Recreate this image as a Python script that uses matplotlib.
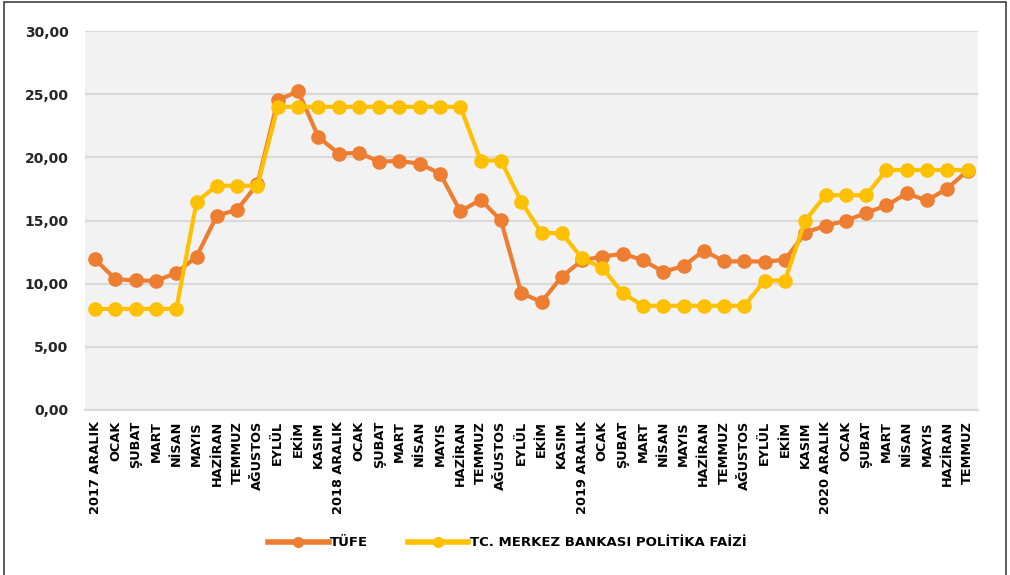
import matplotlib.pyplot as plt
from matplotlib.patches import Rectangle

# Etiquetas del eje X (aylar)
aylar = ["2017 ARALIK", "OCAK", "ŞUBAT", "MART", "NİSAN", "MAYIS", "HAZİRAN", "TEMMUZ",
         "AĞUSTOS", "EYLÜL", "EKİM", "KASIM",
         "2018 ARALIK", "OCAK", "ŞUBAT", "MART", "NİSAN", "MAYIS", "HAZİRAN", "TEMMUZ",
         "AĞUSTOS", "EYLÜL", "EKİM", "KASIM",
         "2019 ARALIK", "OCAK", "ŞUBAT", "MART", "NİSAN", "MAYIS", "HAZİRAN", "TEMMUZ",
         "AĞUSTOS", "EYLÜL", "EKİM", "KASIM",
         "2020 ARALIK", "OCAK", "ŞUBAT", "MART", "NİSAN", "MAYIS", "HAZİRAN", "TEMMUZ"]

tufe = [11.92, 10.35, 10.26, 10.23, 10.85, 12.15, 15.39, 15.85, 17.90, 24.52, 25.24, 21.62,
        20.30, 20.35, 19.67, 19.71, 19.50, 18.71, 15.72, 16.65, 15.01, 9.26, 8.55, 10.56,
        11.84, 12.15, 12.37, 11.86, 10.94, 11.39, 12.62, 11.76, 11.77, 11.75, 11.89, 14.03,
        14.60, 14.97, 15.61, 16.19, 17.14, 16.59, 17.53, 18.95]

faiz = [8.00, 8.00, 8.00, 8.00, 8.00, 16.50, 17.75, 17.75, 17.75, 24.00, 24.00, 24.00,
        24.00, 24.00, 24.00, 24.00, 24.00, 24.00, 24.00, 19.75, 19.75, 16.50, 14.00, 14.00,
        12.00, 11.25, 9.25, 8.25, 8.25, 8.25, 8.25, 8.25, 8.25, 10.25, 10.25, 15.00,
        17.00, 17.00, 17.00, 19.00, 19.00, 19.00, 19.00, 19.00]

yticks = [0, 5, 10, 15, 20, 25, 30]

fuente = ['Liberation Sans Narrow', 'DejaVu Sans']
plt.rcParams['font.family'] = fuente

fig = plt.figure(figsize=(10.1, 5.75), dpi=100)
ax = fig.add_axes([0.0842, 0.287, 0.8838, 0.659])
ax.set_facecolor('#F2F2F2')

x = list(range(len(aylar)))
ax.plot(x, tufe, color='#ED7D31', linewidth=3, marker='o', markersize=9.5,
        label='TÜFE', zorder=3)
ax.plot(x, faiz, color='#FFC000', linewidth=3, marker='o', markersize=9.5,
        label='TC. MERKEZ BANKASI POLİTİKA FAİZİ', zorder=4)

ax.set_xlim(-0.5, len(aylar) - 0.5)
ax.set_ylim(0, 30)
ax.set_yticks(yticks)
ax.set_yticklabels([f"{v:.2f}".replace('.', ',') for v in yticks],
                   fontsize=10, fontweight='bold', color='#262626')
ax.set_xticks(x)
ax.set_xticklabels(aylar, rotation=90, fontsize=9.3, fontweight='bold', color='#000000')
ax.tick_params(length=0, pad=8)
ax.tick_params(axis='y', pad=12)

ax.grid(axis='y', color='#D9D9D9', linewidth=1.5)
ax.set_axisbelow(True)
for s in ['top', 'right', 'left']:
    ax.spines[s].set_visible(False)
ax.spines['bottom'].set_color('#D9D9D9')
ax.spines['bottom'].set_linewidth(1.5)

leg = fig.legend(loc='center', bbox_to_anchor=(0.502, 0.056), ncol=2, frameon=False,
                 prop={'family': fuente, 'weight': 'bold', 'size': 9.5},
                 handlelength=4.6, handletextpad=0.1, columnspacing=3.0)
for h in leg.legend_handles:
    h.set_markersize(7)
    h.set_linewidth(4)

fig.patches.append(Rectangle((0.004, -0.01), 0.992, 1.006, transform=fig.transFigure,
                             fill=False, edgecolor='#404040', linewidth=1.2))

fig.savefig('out.png', dpi=100)
